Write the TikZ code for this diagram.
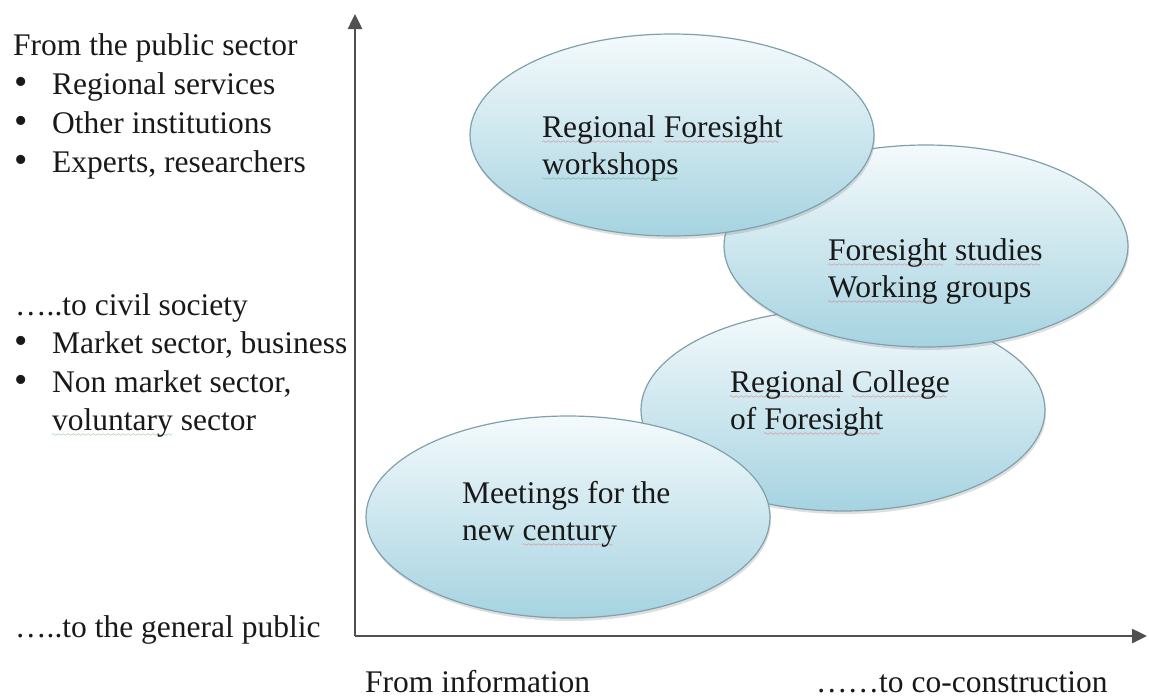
\documentclass[tikz,border=0pt]{standalone}
\usepackage{fontspec}
\setmainfont{Liberation Serif}
\usepackage{tikz}
\usetikzlibrary{shapes.geometric}
\usetikzlibrary{shadows}
\usetikzlibrary{arrows.meta}
\definecolor{bubbletop}{RGB}{244,250,252}
\definecolor{bubblebot}{RGB}{166,211,225}
\definecolor{bubbleline}{RGB}{128,160,172}
\definecolor{axiscol}{RGB}{80,80,80}
\definecolor{textcol}{RGB}{25,25,25}
\definecolor{squigred}{RGB}{225,60,70}
\definecolor{squiggreen}{RGB}{60,150,70}
\font\squigfont=lasy6
\newcommand{\squig}[2]{\setbox0\hbox{#2}\rlap{\textcolor{#1}{\lower6pt\hbox to\wd0{\leaders\hbox{\squigfont\char58}\hfill}}}\box0\relax}
\newcommand{\redsq}[1]{\squig{squigred}{#1}}
\newcommand{\greensq}[1]{\squig{squiggreen}{#1}}
\newcommand{\bigfont}{\fontsize{31.5}{37}\selectfont}
\newcommand{\dotb}{{\fontsize{38}{38}\selectfont\textbullet}}
\tikzset{
	bubble/.style={ellipse,draw=bubbleline,line width=1.2pt,top color=bubbletop,bottom color=bubblebot,
		minimum width=404pt,minimum height=202pt,inner sep=0pt,
		drop shadow={shadow xshift=1pt,shadow yshift=-3pt,opacity=0.25,fill=gray}},
	btext/.style={anchor=base west,inner sep=0pt,align=left,text=textcol,font=\bigfont},
	ltext/.style={anchor=base west,inner sep=0pt,text=textcol,font=\bigfont},
	axis/.style={draw=axiscol,line width=2.5pt,-{Triangle[length=15pt,width=14pt]}}
}

\begin{document}
\begin{tikzpicture}[x=1pt,y=-1pt]
	\useasboundingbox (0,0) rectangle (1149,697);
	% axes
	\coordinate (O) at (355,636);
	\coordinate (ytop) at (355,14);
	\coordinate (xend) at (1147,636);
	\draw[axis] (O) -- (ytop);
	\draw[axis] (O) -- (xend);
	% bubbles, back to front
	\draw (843,410) node (college) [bubble] {};
	\draw (926,246) node (studies) [bubble] {};
	\draw (672,135) node (wshop) [bubble] {};
	\draw (568,517) node (meet) [bubble] {};
	\draw (wshop) ++(-130,39) node (wshoptxt) [btext] {\redsq{Regional} \redsq{Foresight}\\\greensq{workshops}};
	\draw (studies) ++(-98,51) node (studtxt) [btext] {\redsq{Foresight} \redsq{studies}\\\redsq{Working} groups};
	\draw (college) ++(-113,19) node (colltxt) [btext] {\redsq{Regional} \redsq{College}\\of \redsq{Foresight}};
	\draw (meet) ++(-106,23) node (meettxt) [btext] {Meetings for the\\new \redsq{century}};
	% left side
	\draw (13,55) node (pub) [ltext] {From the public sector};
	\foreach \yy/\t [count=\i] in {94/Regional services,133/Other institutions,172/{Experts, researchers}} {
		\draw (14,\yy) node (pubb\i) [ltext] {\dotb} (52,\yy) node (pubt\i) [ltext] {\t};
	}
	\draw (15,315) node (civ) [ltext] {…..to civil society};
	\foreach \yy/\t [count=\i] in {353/{Market sector, business},392/{Non market sector,}} {
		\draw (14,\yy) node (civb\i) [ltext] {\dotb} (52,\yy) node (civt\i) [ltext] {\t};
	}
	\draw (52,430) node (civt3) [ltext] {\greensq{voluntary} sector};
	\draw (15,637) node (gen) [ltext] {…..to the general public};
	% under the x axis
	\draw (365,692) node (info) [ltext] {From information};
	\draw (816,692) node (cocon) [ltext] {……to co-construction};
\end{tikzpicture}
\end{document}
